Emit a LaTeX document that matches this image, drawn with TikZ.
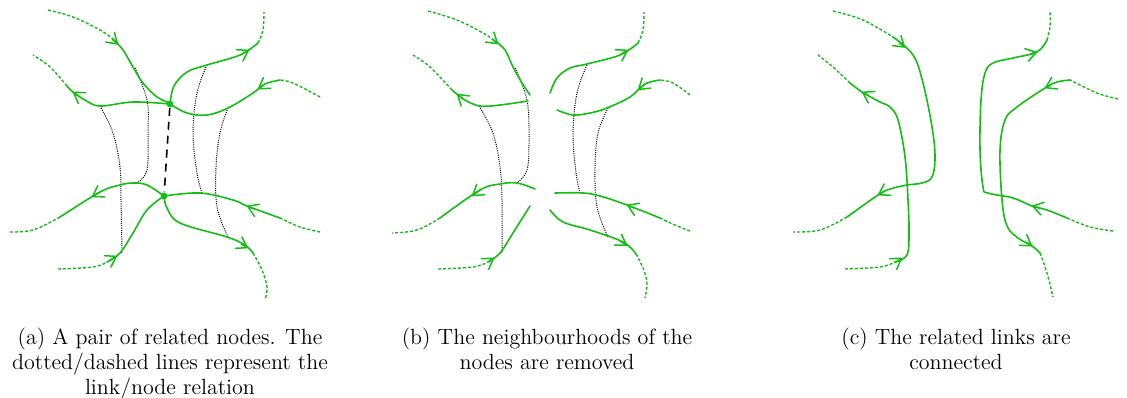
\documentclass[tikz,border=0pt]{standalone}
\usetikzlibrary{arrows.meta}
\definecolor{linkgreen}{RGB}{20,190,20}
\tikzset{
  x=0.5pt,y=-0.5pt,
  link/.style={draw=linkgreen,line width=0.8pt,line cap=round},
  linkend/.style={draw=linkgreen,line width=0.7pt,dash pattern=on 1.5pt off 1pt},
  relation/.style={draw=black,line width=0.5pt,dash pattern=on 0.5pt off 0.6pt},
  noderel/.style={draw=black,line width=0.8pt,dash pattern=on 4pt off 3pt},
  dotnode/.style={circle,fill=linkgreen,inner sep=0pt,minimum size=3.4pt},
  tip/.style={draw=linkgreen,line width=0.75pt,-{Straight Barb[length=5pt,width=6.5pt,round]}},
  caption/.style={align=center,anchor=north,font=\fontsize{11}{12.5}\selectfont,inner sep=0pt},
  sm/.style={smooth,tension=0.6}
}
\begin{document}
\begin{tikzpicture}
\useasboundingbox (0,0) rectangle (1127,397);

% ---------------- panel (a) ----------------
\node[dotnode] (n1) at (170,104) {};
\node[dotnode] (n2) at (164,196) {};
% relations
\draw[relation] plot[sm] coordinates {(100,106)(113,133)(120,167)(121,200)(122,253)};
\draw[relation] plot[sm] coordinates {(135,68)(147,100)(148,133)(147,170)(137,183)};
\draw[relation] plot[sm] coordinates {(207,65)(197,93)(193,133)(197,173)(202,193)};
\draw[relation] plot[sm] coordinates {(228,108)(220,133)(216,167)(217,207)(228,237)};
\draw[noderel] (n1) -- (n2);
% links
\draw[linkend] plot[sm] coordinates {(48,10)(73,17)(100,30)(113,39)};
\draw[link] plot[sm] coordinates {(113,39)(123,50)(133,67)(143,83)(157,97)(170,103)};
\draw[link] plot[sm] coordinates {(170,104)(133,102)(100,106)(85,100)(73,92)(67,86)};
\draw[linkend] plot[sm] coordinates {(67,86)(50,67)(33,55)};
\draw[link] plot[sm] coordinates {(170,104)(174,86)(187,72)(207,65)(240,55)(258,43)};
\draw[linkend] plot[sm] coordinates {(258,43)(263,30)(264,12)};
\draw[linkend] plot[sm] coordinates {(320,97)(293,83)(280,80)};
\draw[link] plot[sm] coordinates {(280,80)(265,84)(253,93)(228,108)(207,115)(187,113)(170,104)};
\draw[link] plot[sm] coordinates {(164,196)(147,185)(133,183)(120,185)(100,192)(60,217)};
\draw[linkend] plot[sm] coordinates {(60,217)(33,230)(8,232)};
\draw[linkend] plot[sm] coordinates {(58,269)(93,267)(107,262)};
\draw[link] plot[sm] coordinates {(107,262)(120,253)(133,233)(147,210)(164,196)};
\draw[linkend] plot[sm] coordinates {(320,232)(300,227)(280,218)};
\draw[link] plot[sm] coordinates {(280,218)(247,206)(233,200)(200,193)(164,196)};
\draw[link] plot[sm] coordinates {(164,196)(167,208)(180,223)(227,237)(245,245)(253,253)};
\draw[linkend] plot[sm] coordinates {(253,253)(262,270)(267,287)(265,300)};
% arrow tips
\draw[tip] (112,39) -- (118,44.5);
\draw[tip] (79,96) -- (73,92);
\draw[tip] (242,54) -- (249,50);
\draw[tip] (264,85) -- (258,89);
\draw[tip] (100,192) -- (92,197);
\draw[tip] (110,260) -- (117,256);
\draw[tip] (254,209) -- (247,206);
\draw[tip] (241,244) -- (248,248);

% ---------------- panel (b) ----------------
\draw[relation] plot[sm] coordinates {(479,106)(493,133)(500,167)(502,200)(502,253)};
\draw[relation] plot[sm] coordinates {(515,68)(527,100)(529,140)(527,170)(517,183)};
\draw[relation] plot[sm] coordinates {(587,65)(577,93)(573,133)(576,173)(580,193)};
\draw[relation] plot[sm] coordinates {(608,108)(598,133)(595,167)(597,207)(608,237)};
\draw[linkend] plot[sm] coordinates {(428,11)(457,20)(483,33)(495,41)};
\draw[link] plot[sm] coordinates {(495,41)(505,50)(513,67)(522,83)(530,95)};
\draw[link] plot[sm] coordinates {(528,101)(500,105)(480,106)(465,100)(452,90)};
\draw[linkend] plot[sm] coordinates {(452,90)(430,67)(413,55)};
\draw[link] plot[sm] coordinates {(550,93)(557,78)(570,68)(587,64)(620,55)(638,43)};
\draw[linkend] plot[sm] coordinates {(638,43)(643,30)(644,12)};
\draw[linkend] plot[sm] coordinates {(690,95)(673,83)(660,80)};
\draw[link] plot[sm] coordinates {(660,80)(645,84)(630,97)(607,108)(590,113)(573,115)(557,110)};
\draw[link] plot[sm] coordinates {(535,189)(517,183)(500,184)(480,190)(440,218)};
\draw[linkend] plot[sm] coordinates {(440,218)(417,230)(392,233)};
\draw[linkend] plot[sm] coordinates {(438,269)(473,267)(488,262)};
\draw[link] plot[sm] coordinates {(488,262)(500,253)(513,233)(530,206)};
\draw[linkend] plot[sm] coordinates {(690,231)(675,225)(660,218)};
\draw[link] plot[sm] coordinates {(660,218)(627,205)(600,196)(583,193)(555,193)};
\draw[link] plot[sm] coordinates {(550,210)(563,222)(590,230)(623,242)(636,254)};
\draw[linkend] plot[sm] coordinates {(636,254)(643,268)(647,283)(645,298)};
% arrow tips
\draw[tip] (492,39) -- (498,44);
\draw[tip] (463,99) -- (457,94);
\draw[tip] (621,54) -- (628,50);
\draw[tip] (644,85) -- (638,90);
\draw[tip] (480,190) -- (472,196);
\draw[tip] (488,262) -- (494,258);
\draw[tip] (634,208) -- (627,205);
\draw[tip] (620,241) -- (627,245.5);

% ---------------- panel (c) ----------------
\draw[linkend] plot[sm] coordinates {(833,11)(863,20)(893,37)};
\draw[link] plot[sm] coordinates {(893,37)(913,55)(923,83)(932,127)(935,157)(932,177)(922,183)(907,185)(890,189)(878,195)(847,217)};
\draw[linkend] plot[sm] coordinates {(847,217)(820,230)(793,232)};
\draw[linkend] plot[sm] coordinates {(845,269)(880,267)(895,262)};
\draw[link] plot[sm] coordinates {(895,262)(907,255)(909,233)(908,200)(905,157)(898,120)(890,107)(880,102)(862,92)(850,83)};
\draw[linkend] plot[sm] coordinates {(850,83)(833,67)(818,55)};
\draw[linkend] plot[sm] coordinates {(1113,231)(1090,227)(1067,218)};
\draw[link] plot[sm] coordinates {(1067,218)(1047,210)(1032,206)(1013,198)(988,193)(983,187)(980,150)(981,100)(985,73)(993,63)(1013,58)(1037,52)(1047,40)};
\draw[linkend] plot[sm] coordinates {(1047,40)(1050,27)(1050,12)};
\draw[linkend] plot[sm] coordinates {(1118,99)(1097,93)(1070,80)};
\draw[link] plot[sm] coordinates {(1070,80)(1057,82)(1045,88)(1017,107)(1005,120)(1000,150)(1002,200)(1007,226)(1018,238)(1032,246)(1040,253)};
\draw[linkend] plot[sm] coordinates {(1040,253)(1047,273)(1053,297)};
% arrow tips
\draw[tip] (899,42.5) -- (905,47.5);
\draw[tip] (885,191) -- (878,195);
\draw[tip] (896,262) -- (902,258);
\draw[tip] (868,95.3) -- (862,92);
\draw[tip] (1040,208) -- (1032,206);
\draw[tip] (1030,54) -- (1037,52);
\draw[tip] (1051,85) -- (1045,88);
\draw[tip] (1026,242) -- (1032,246);

% ---------------- captions ----------------
\node[caption] (capa) at (170,328) {(a) A pair of related nodes. The\\dotted/dashed lines represent the\\link/node relation};
\node[caption] (capb) at (547,328) {(b) The neighbourhoods of the\\nodes are removed};
\node[caption] (capc) at (956,328) {(c) The related links are\\connected};
\end{tikzpicture}
\end{document}
